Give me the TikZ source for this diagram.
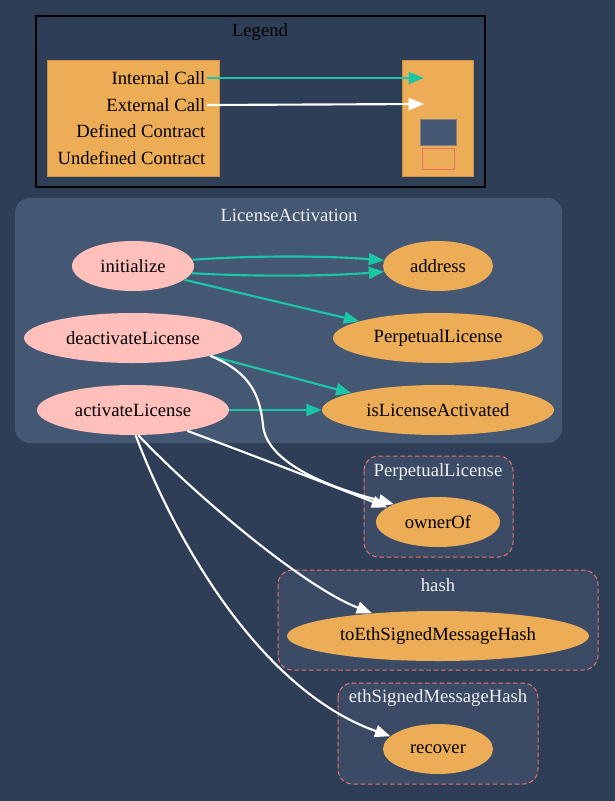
\documentclass[tikz,border=0pt]{standalone}
\usepackage{fontspec}
\setmainfont{Liberation Serif}
\usetikzlibrary{arrows.meta, positioning, shapes.geometric}
\definecolor{bgnavy}{HTML}{2E3E56}
\definecolor{clusterfill}{HTML}{445773}
\definecolor{undeffill}{HTML}{3B4B65}
\definecolor{funcpink}{HTML}{FFBFBA}
\definecolor{extorange}{HTML}{EDAD56}
\definecolor{callteal}{HTML}{1BC6A6}
\definecolor{undefred}{HTML}{E8726D}
\definecolor{titlegray}{HTML}{F0F0F0}
\tikzset{
    func/.style={ellipse, fill=funcpink, inner sep=0pt, minimum height=37.5pt},
    extfunc/.style={ellipse, fill=extorange, inner sep=0pt, minimum height=37.5pt},
    cluster/.style={fill=clusterfill, draw=none, rounded corners=11pt},
    undefcluster/.style={fill=undeffill, draw=undefred, dash pattern=on 3.5pt off 2pt, line width=0.75pt, rounded corners=11pt},
    clustertitle/.style={text=titlegray, inner sep=1pt},
    legkey/.style={anchor=east, inner sep=1pt},
    internal/.style={draw=callteal, line width=1.6pt, -{Triangle[length=11.5pt, width=9pt]}},
    external/.style={draw=white, line width=1.6pt, -{Triangle[length=11.5pt, width=9pt]}}
}
\begin{document}
\begin{tikzpicture}[x=0.75pt, y=-0.75pt, font=\fontsize{14}{16}\selectfont]
    \useasboundingbox (0,0) rectangle (615,801);
    \fill[bgnavy] (0,0) rectangle (615,801);

    % Legend
    \draw[black, line width=1.1pt] (36,16) rectangle (485,187);
    \node (Leg_title) at (260,32) {Legend};
    \draw[extorange!85!black, fill=extorange, line width=0.4pt] (47,60) rectangle (219,176);
    \draw[extorange!85!black, fill=extorange, line width=0.4pt] (402,60) rectangle (473,176);
    \draw[gray, fill=clusterfill, line width=0.4pt] (420,119) rectangle (456,145);
    \draw[undefred, fill=extorange, line width=0.6pt] (422,148) rectangle (454,169);
    \node (Leg_int) [legkey] at (207,78) {Internal Call};
    \node (Leg_ext) [legkey] at (207,105) {External Call};
    \node (Leg_def) [legkey] at (207,131) {Defined Contract};
    \node (Leg_undef) [legkey] at (207,158) {Undefined Contract};
    \coordinate (Leg_int_end) at (424,78);
    \coordinate (Leg_ext_end) at (424,104);
    \draw[internal] (Leg_int.east) -- (Leg_int_end);
    \draw[external] (Leg_ext.east) -- (Leg_ext_end);

    % Cluster: LicenseActivation
    \fill[cluster] (15,198) rectangle (562,443);
    \node (LA_title) [clustertitle] at (289,215) {LicenseActivation};
    \node (LA_init) [func, minimum width=91.5pt] at (133,266) {initialize};
    \node (LA_deact) [func, minimum width=163.5pt] at (133,338) {deactivateLicense};
    \node (LA_act) [func, minimum width=144pt] at (133,410) {activateLicense};
    \node (LA_address) [extfunc, minimum width=82.5pt] at (438,266) {address};
    \node (LA_perp) [extfunc, minimum width=157.5pt] at (438,338) {PerpetualLicense};
    \node (LA_isact) [extfunc, minimum width=174pt] at (438,410) {isLicenseActivated};

    % Undefined clusters
    \draw[undefcluster] (364,456) rectangle (513,557);
    \node (PL_title) [clustertitle] at (438,472) {PerpetualLicense};
    \node (PL_owner) [extfunc, minimum width=93pt] at (438,522) {ownerOf};

    \draw[undefcluster] (278,570) rectangle (598,670);
    \node (H_title) [clustertitle] at (438,585) {hash};
    \node (H_toeth) [extfunc, minimum width=226.5pt] at (438,636) {toEthSignedMessageHash};

    \draw[undefcluster] (338,683) rectangle (538,784);
    \node (E_title) [clustertitle] at (438,698) {ethSignedMessageHash};
    \node (E_recover) [extfunc, minimum width=82.5pt] at (438,749) {recover};

    % Internal calls
    \draw[internal] (LA_init.6) .. controls (260,255) and (330,256) .. (LA_address.174);
    \draw[internal] (LA_init.-7) .. controls (260,277) and (330,276) .. (LA_address.186);
    \draw[internal] (LA_init.-15) -- (LA_perp.168);
    \draw[internal] (LA_deact.-13) -- (LA_isact.169);
    \draw[internal] (LA_act.east) -- (LA_isact.west);

    % External calls
    \draw[external] (LA_deact.-13) .. controls (250,372) and (260,395) .. (263,425)
        .. controls (266,460) and (320,485) .. (PL_owner.158);
    \draw[external] (LA_act.-21) .. controls (260,458) and (330,485) .. (PL_owner.164);
    \draw[external] (LA_act.-78) .. controls (190,490) and (300,585) .. (H_toeth.161);
    \draw[external] (LA_act.-84) .. controls (175,540) and (260,690) .. (E_recover.165);
\end{tikzpicture}
\end{document}
